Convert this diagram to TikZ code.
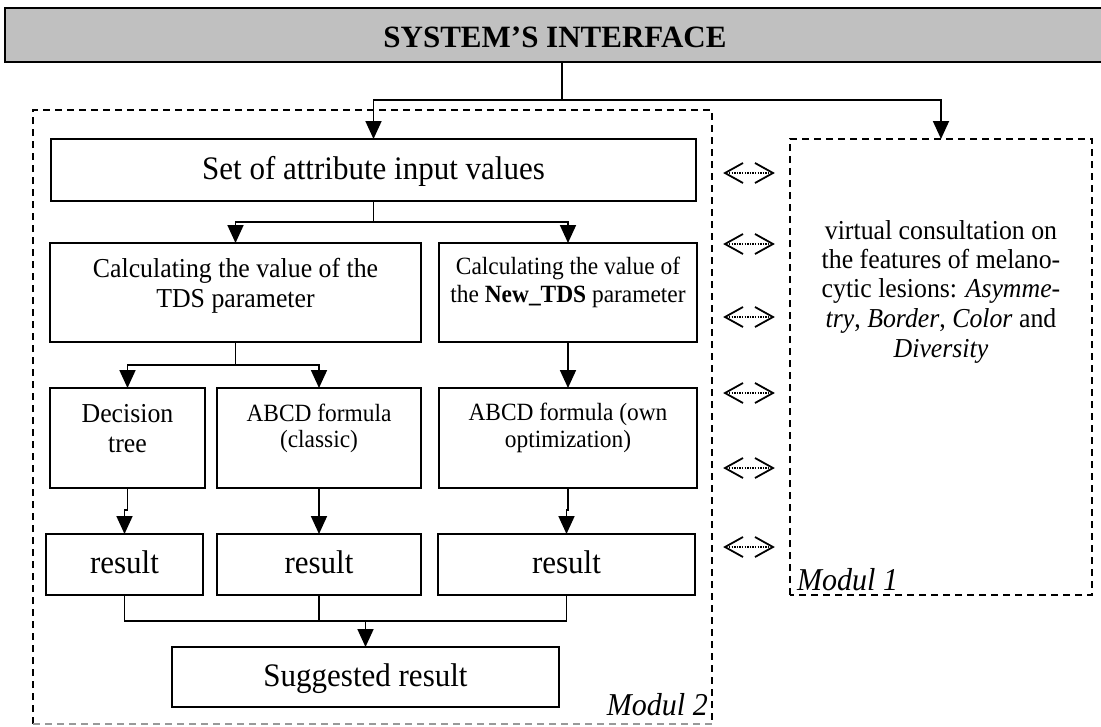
\documentclass[tikz,border=0pt]{standalone}
\usepackage{fontspec}
\setmainfont{Liberation Serif}
\usetikzlibrary{arrows.meta,calc}
\definecolor{bargray}{HTML}{C0C0C0}
\tikzset{
  box/.style={draw=black, line width=2pt, rectangle, inner sep=0pt, outer sep=0pt},
  area/.style={rectangle, inner sep=0pt, outer sep=0pt},
  dashline/.style={draw=black, line width=1.8pt, dash pattern=on 7pt off 5pt},
  graydash/.style={draw=black!40, line width=1.8pt, dash pattern=on 7pt off 5pt},
  conn/.style={draw=black, line width=1.8pt},
  arr/.style={conn, -{Triangle[length=18pt,width=16pt]}},
  chev/.style={draw=black, line width=1.8pt, line join=miter},
  dots/.style={draw=black, line width=1.3pt, dash pattern=on 1.3pt off 1.3pt},
  big/.style={font=\fontsize{31}{36}\selectfont, inner sep=0pt, yscale=1.06, transform shape},
  mid/.style={font=\fontsize{25.8}{30}\selectfont, inner sep=0pt, yscale=1.06, transform shape},
  sml/.style={font=\fontsize{23.4}{28}\selectfont, inner sep=0pt, yscale=1.06, transform shape},
  modl/.style={font=\fontsize{30}{34}\selectfont\itshape, inner sep=0pt, yscale=1.06, transform shape},
}
\begin{document}
\begin{tikzpicture}[x=1pt,y=-1pt]
\useasboundingbox (0,0) rectangle (1101,726);
\clip (0,0) rectangle (1101,726);

% top bar
\node[box, fill=bargray, minimum width=1110, minimum height=54, anchor=north west] (bar) at (5,8) {};
\node[font=\fontsize{31}{35}\selectfont\bfseries, inner sep=0pt, anchor=base] (title) at (555,47) {SYSTEM’S INTERFACE};

% module frames
\node[area, minimum width=679, minimum height=614, anchor=north west] (m2) at (33,110) {};
\draw[dashline] (m2.south west) -- (m2.north west) -- (m2.north east) -- (m2.south east);
\draw[graydash] (m2.south west) -- (m2.south east);
\node[modl, anchor=base east] (m2lab) at (708,715) {Modul 2};

\node[area, minimum width=302, minimum height=456, anchor=north west] (m1) at (790,139) {};
\draw[dashline] (m1.south west) rectangle (m1.north east);
\node[modl, anchor=base west] (m1lab) at (797,590) {Modul 1};

% Modul 1 text
\node[mid, anchor=base] (t1) at (941,239) {virtual consultation on};
\node[mid, anchor=base] (t2) at (941,268) {the features of melano-};
\node[mid, anchor=base] (t3) at (941,297) {cytic lesions: \textit{Asymme-}};
\node[mid, anchor=base] (t4) at (941,327) {\textit{try}, \textit{Border}, \textit{Color} and};
\node[mid, anchor=base] (t5) at (941,357) {\textit{Diversity}};

% boxes
\node[box, minimum width=645, minimum height=62] (set) at (373.5,170) {};
\node[big, anchor=base] (setT) at (373.5,179) {Set of attribute input values};

\node[box, minimum width=371, minimum height=99] (tds) at (235.5,292.5) {};
\node[mid, anchor=base] (tdsT1) at (235.5,277) {Calculating the value of the};
\node[mid, anchor=base] (tdsT2) at (235.5,307) {TDS parameter};

\node[box, minimum width=258, minimum height=99] (ntds) at (568,292.5) {};
\node[sml, anchor=base] (ntdsT1) at (568,274) {Calculating the value of};
\node[sml, anchor=base] (ntdsT2) at (568,302) {the \textbf{New\_TDS} parameter};

\node[box, minimum width=155, minimum height=100] (dt) at (127.5,438) {};
\node[mid, anchor=base] (dtT1) at (127.5,422) {Decision};
\node[mid, anchor=base] (dtT2) at (127.5,452) {tree};

\node[box, minimum width=204, minimum height=100] (cl) at (319,438) {};
\node[sml, anchor=base] (clT1) at (319,421) {ABCD formula};
\node[sml, anchor=base] (clT2) at (319,447) {(classic)};

\node[box, minimum width=258, minimum height=100] (own) at (568,438) {};
\node[sml, anchor=base] (ownT1) at (568,420) {ABCD formula (own};
\node[sml, anchor=base] (ownT2) at (568,447) {optimization)};

\node[box, minimum width=157, minimum height=61] (r1) at (124.5,564.5) {};
\node[big, anchor=base] (r1T) at (124.5,573) {result};
\node[box, minimum width=204, minimum height=61] (r2) at (319,564.5) {};
\node[big, anchor=base] (r2T) at (319,573) {result};
\node[box, minimum width=257, minimum height=61] (r3) at (566.5,564.5) {};
\node[big, anchor=base] (r3T) at (566.5,573) {result};

\node[box, minimum width=387, minimum height=60] (sug) at (365.5,677) {};
\node[big, anchor=base] (sugT) at (365.5,686) {Suggested result};

% junction coordinates
\coordinate (j1) at (562,100);
\coordinate (j2) at (373.5,222);
\coordinate (j3) at (235.5,365);
\coordinate (j4) at (365.5,621);
\coordinate (k1) at (127.5,510);
\coordinate (k3) at (568,510);

% connectors
\draw[conn] (bar.south -| j1) -- (j1);
\draw[arr] (j1) -| (set.north);
\draw[arr] (j1) -| (m1.north);
\draw[conn] (set.south) -- (j2);
\draw[arr] (j2) -| (tds.north);
\draw[arr] (j2) -| (ntds.north);
\draw[conn] (tds.south) -- (j3);
\draw[arr] (j3) -| (dt.north);
\draw[arr] (j3) -| (cl.north);
\draw[arr] (ntds.south) -- (own.north);
\draw[arr] (dt.south) -- (k1) -| (r1.north);
\draw[arr] (cl.south) -- (r2.north);
\draw[arr] (own.south) -- (k3) -| (r3.north);
\draw[conn] (r1.south) |- (j4);
\draw[conn] (r3.south) |- (j4);
\draw[conn] (r2.south) |- (j4);
\draw[arr] (j4) -- (sug.north);

% double dotted arrows between modules
\foreach \i/\yy in {1/173,2/244,3/317,4/393,5/468,6/547}{
  \coordinate (dl\i) at (725,\yy);
  \coordinate (dr\i) at (773,\yy);
  \draw[dots] ($(dl\i)+(4,0)$) -- ($(dr\i)+(-4,0)$);
  \draw[chev] ($(dl\i)+(18,-10)$) -- (dl\i) -- ($(dl\i)+(18,10)$);
  \draw[chev] ($(dr\i)+(-18,-10)$) -- (dr\i) -- ($(dr\i)+(-18,10)$);
}
\end{tikzpicture}
\end{document}
